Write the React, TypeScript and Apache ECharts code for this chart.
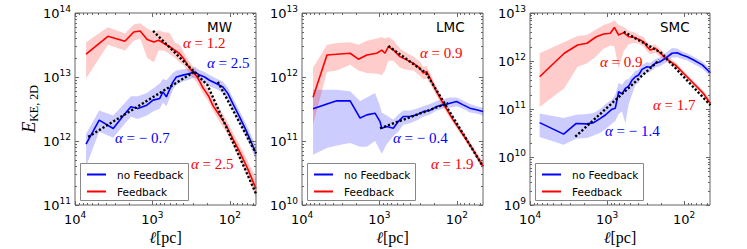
import React, { useEffect, useRef } from 'react';
import * as echarts from 'echarts';

// ---------------- data (ℓ in pc, E_KE,2D) ----------------
// MW
const mwRedEll = [7200, 3760, 2270, 1740, 1440, 1170, 960, 830, 716, 600, 516, 445, 390, 351, 312, 269, 243, 225, 206, 188, 166, 136, 112, 92, 75, 59, 46];
const mwRedE = [2.27e13, 4.33e13, 3.61e13, 5.06e13, 5.24e13, 3.85e13, 3.53e13, 3.75e13, 3.37e13, 2.97e13, 2.62e13, 2.31e13, 1.9e13, 1.53e13, 1.25e13, 1.03e13, 8.3e12, 6.9e12, 5.9e12, 5.0e12, 3.6e12, 2.5e12, 1.77e12, 1.1e12, 6.8e11, 3.7e11, 1.8e11];
const mwRedLo = [9.5e12, 3.2e13, 2.6e13, 3.7e13, 4.0e13, 2.0e13, 1.7e13, 2.6e13, 2.6e13, 2.3e13, 2.0e13, 1.7e13, 1.5e13, 1.23e13, 1.02e13, 8.3e12, 6.8e12, 5.6e12, 4.8e12, 4.1e12, 3.0e12, 2.0e12, 1.4e12, 8.7e11, 5.2e11, 2.8e11, 1.3e11];
const mwRedHi = [3.5e13, 6.0e13, 4.8e13, 6.6e13, 6.9e13, 5.7e13, 5.0e13, 5.4e13, 5.0e13, 4.9e13, 3.5e13, 3.2e13, 2.4e13, 1.9e13, 1.55e13, 1.26e13, 1.02e13, 8.5e12, 7.2e12, 6.2e12, 4.5e12, 3.2e12, 2.2e12, 1.38e12, 8.7e11, 4.9e11, 2.6e11];
const mwBlueEll = [7200, 4870, 3210, 2340, 1900, 1545, 1183, 982, 805, 731, 661, 543, 491, 404, 331, 286, 246, 212, 183, 150, 123, 106, 92, 75, 62, 51, 46];
const mwBlueE = [8.95e11, 2.12e12, 1.57e12, 2.54e12, 3.42e12, 3.23e12, 3.63e12, 4.35e12, 4.62e12, 5.86e12, 4.9e12, 8.4e12, 1.0e13, 1.07e13, 1.13e13, 1.2e13, 1.07e13, 1.0e13, 8.9e12, 7.9e12, 7.0e12, 5.5e12, 3.86e12, 2.39e12, 1.48e12, 8.6e11, 6.4e11];
const mwBlueLo = [4.0e11, 1.4e12, 1.12e12, 1.8e12, 2.4e12, 2.2e12, 2.5e12, 2.9e12, 3.2e12, 4.0e12, 3.5e12, 6.3e12, 7.6e12, 8.5e12, 9.1e12, 9.8e12, 8.7e12, 8.1e12, 7.2e12, 6.5e12, 5.6e12, 4.5e12, 3.1e12, 1.9e12, 1.17e12, 6.8e11, 5.0e11];
const mwBlueHi = [1.3e12, 3.0e12, 2.5e12, 3.8e12, 5.0e12, 5.0e12, 5.6e12, 6.6e12, 7.9e12, 9.3e12, 8.9e12, 1.17e13, 1.26e13, 1.32e13, 1.35e13, 1.45e13, 1.29e13, 1.2e13, 1.07e13, 9.5e12, 8.5e12, 6.8e12, 4.8e12, 2.95e12, 1.86e12, 1.1e12, 8.1e11];
const mwRedFit = [[982, 5.25e13], [195, 7.5e12], [46, 1.5e11]];
const mwBlueFitA = [[6750, 1.16e12], [290, 1.2e13]];
const mwBlueFitB = [[143, 8.4e12], [46, 6.4e11]];

// LMC
const lmcRedEll = [7200, 4760, 3550, 2390, 1870, 1456, 1084, 934, 847, 767, 662, 543, 446, 366, 300, 272, 246, 223, 183, 151, 112, 83, 62, 46];
const lmcRedE = [4.84e11, 2.21e12, 2.27e12, 2.35e12, 1.9e12, 2.21e12, 2.35e12, 2.63e12, 2.35e12, 2.98e12, 2.65e12, 2.08e12, 1.85e12, 1.64e12, 1.37e12, 1.15e12, 1.22e12, 9.6e11, 5.9e11, 3.9e11, 2.14e11, 1.25e11, 7.3e10, 4.0e10];
const lmcRedLo = [1.8e11, 1.2e12, 1.26e12, 1.55e12, 1.26e12, 1.15e12, 1.12e12, 1.07e12, 1.26e12, 1.8e12, 1.8e12, 1.4e12, 1.3e12, 1.26e12, 1.05e12, 9.1e11, 9.5e11, 7.9e11, 5.1e11, 3.4e11, 1.9e11, 1.12e11, 6.5e10, 3.5e10];
const lmcRedHi = [1.4e12, 3.2e12, 3.4e12, 3.5e12, 3.2e12, 3.7e12, 4.0e12, 4.2e12, 4.0e12, 4.2e12, 3.8e12, 2.8e12, 2.4e12, 2.1e12, 1.74e12, 1.45e12, 1.48e12, 1.15e12, 6.9e11, 4.5e11, 2.4e11, 1.41e11, 8.3e10, 4.6e10];
const lmcBlueEll = [7200, 4760, 3550, 2390, 1778, 1456, 1140, 982, 934, 805, 662, 571, 492, 404, 331, 272, 223, 183, 151, 123, 101, 83, 68, 56, 46];
const lmcBlueE = [3.18e11, 3.8e11, 4.24e11, 4.24e11, 2.28e11, 2.56e11, 2.72e11, 2.01e11, 1.58e11, 1.68e11, 1.58e11, 2.01e11, 2.41e11, 2.41e11, 2.56e11, 2.88e11, 3.03e11, 3.45e11, 3.67e11, 3.9e11, 4.13e11, 3.67e11, 3.26e11, 3.07e11, 2.88e11];
const lmcBlueLo = [6.1e10, 7.8e10, 8.5e10, 9.3e10, 8.1e10, 8.1e10, 1.0e11, 7.1e10, 6.3e10, 8.9e10, 1.2e11, 1.4e11, 1.8e11, 1.9e11, 2.1e11, 2.4e11, 2.6e11, 3.0e11, 3.2e11, 3.3e11, 3.5e11, 3.2e11, 2.8e11, 2.7e11, 2.5e11];
const lmcBlueHi = [6.3e11, 6.3e11, 6.3e11, 6.0e11, 4.2e11, 4.8e11, 5.6e11, 3.5e11, 2.8e11, 2.5e11, 2.14e11, 2.6e11, 3.0e11, 3.0e11, 3.2e11, 3.5e11, 3.8e11, 4.2e11, 4.5e11, 4.8e11, 4.8e11, 4.3e11, 3.8e11, 3.5e11, 3.3e11];
const lmcRedFit = [[767, 3.05e12], [250, 1.15e12], [46, 4.0e10]];
const lmcBlueFit = [[982, 1.58e11], [130, 3.9e11]];

// SMC
const smcRedEll = [7500, 3590, 2410, 1820, 1377, 1107, 906, 803, 706, 608, 524, 451, 389, 335, 303, 274, 236, 203, 166, 130, 101, 75, 56, 45.5];
const smcRedE = [4.7e11, 1.45e12, 2.15e12, 2.34e12, 3.2e12, 3.66e12, 3.78e12, 5.0e12, 3.48e12, 3.9e12, 3.2e12, 3.12e12, 2.83e12, 2.52e12, 1.99e12, 1.69e12, 1.84e12, 1.45e12, 1.08e12, 8.3e11, 5.5e11, 3.4e11, 2.1e11, 1.3e11];
const smcRedLo = [1.1e11, 2.7e11, 7.6e11, 8.9e11, 1.26e12, 1.8e12, 2.1e12, 2.0e12, 7.1e11, 1.6e12, 2.2e12, 2.4e12, 2.3e12, 2.0e12, 1.6e12, 1.38e12, 1.48e12, 1.2e12, 9.3e11, 7.2e11, 4.9e11, 3.0e11, 1.86e11, 1.15e11];
const smcRedHi = [1.45e12, 2.5e12, 3.3e12, 3.5e12, 4.6e12, 5.6e12, 6.3e12, 7.1e12, 5.6e12, 5.2e12, 4.2e12, 4.0e12, 3.5e12, 3.2e12, 2.5e12, 2.1e12, 2.2e12, 1.78e12, 1.26e12, 9.5e11, 6.3e11, 3.9e11, 2.4e11, 1.5e11];
const smcBlueEll = [7500, 3660, 2510, 1820, 1490, 1220, 1050, 861, 780, 706, 638, 578, 524, 473, 428, 389, 351, 303, 274, 236, 203, 175, 143, 123, 106, 91, 75, 58, 45.5];
const smcBlueE = [5.2e10, 3.0e10, 5.0e10, 4.9e10, 5.2e10, 6.4e10, 7.5e10, 9.9e10, 1.04e11, 2.29e11, 2.06e11, 2.7e11, 3.0e11, 4.0e11, 4.7e11, 5.1e11, 6.7e11, 7.6e11, 7.4e11, 8.95e11, 9.7e11, 1.14e12, 1.45e12, 1.49e12, 1.33e12, 1.23e12, 1.05e12, 8.3e11, 5.7e11];
const smcBlueLo = [2.6e10, 1.8e10, 2.4e10, 2.5e10, 2.8e10, 3.2e10, 3.8e10, 5.0e10, 5.6e10, 7.9e10, 8.9e10, 5.0e10, 1.26e11, 2.0e11, 3.2e11, 3.5e11, 5.0e11, 5.6e11, 6.0e11, 7.2e11, 7.9e11, 9.1e11, 1.17e12, 1.2e12, 1.1e12, 1.02e12, 8.7e11, 6.9e11, 4.8e11];
const smcBlueHi = [8.1e10, 6.5e10, 7.6e10, 7.9e10, 8.3e10, 1.0e11, 1.26e11, 1.58e11, 2.0e11, 3.5e11, 3.2e11, 4.0e11, 4.2e11, 5.2e11, 6.3e11, 6.6e11, 8.3e11, 9.5e11, 9.1e11, 1.1e12, 1.2e12, 1.45e12, 1.86e12, 1.82e12, 1.58e12, 1.45e12, 1.23e12, 9.8e11, 6.8e11];
const smcRedFit = [[608, 4.07e12], [200, 1.5e12], [45.5, 1.2e11]];
const smcBlueFit = [[2580, 2.65e10], [210, 1.05e12]];

// axes ranges
const xRange = [46, 1e4];
const yRanges = [[1e11, 1e14], [1e10, 1e13], [1e9, 1e13]];
const panelNames = ['MW', 'LMC', 'SMC'];
const legendNames = ['no Feedback', 'Feedback'];

// fit annotations: [panel, text, color, left x, center y]
const alphaLabels: [number, string, string, number, number][] = [
  [0, '1.2', 'red', 183, 42.5],
  [0, '2.5', 'blue', 207, 62.5],
  [0, '− 0.7', 'blue', 115, 138],
  [0, '2.5', 'red', 191, 164],
  [1, '0.9', 'red', 420, 53.3],
  [1, '− 0.4', 'blue', 393, 137.5],
  [1, '1.9', 'red', 431, 164],
  [2, '0.9', 'red', 600, 61.7],
  [2, '1.7', 'red', 653, 105],
  [2, '− 1.4', 'blue', 605, 130.7],
];

// ---------------- layout / styles ----------------
const layout = [
  { left: 75, width: 181 },
  { left: 302, width: 181 },
  { left: 530, width: 180 },
];
const TOP = 13;
const HEIGHT = 192;
const RED = '#ff0000';
const BLUE = '#0000ff';
const FRAME = '#666666';
const SERIF = "'Liberation Serif', 'DejaVu Serif', serif";
const SANS = "'DejaVu Sans', sans-serif";

function powFmt(v: number) {
  const l = Math.log10(v);
  const e = Math.round(l);
  if (Math.abs(l - e) > 1e-6) return '';
  return '{b|10}{s|' + e + '}';
}
const tickRich = {
  b: { fontFamily: SANS, fontSize: 13, color: '#000', lineHeight: 18 },
  s: { fontFamily: SANS, fontSize: 9, color: '#000', lineHeight: 10, verticalAlign: 'top' },
};

function logTicks(min: number, max: number) {
  const out: { v: number; major: boolean }[] = [];
  for (let e = Math.floor(Math.log10(min)); e <= Math.ceil(Math.log10(max)); e++) {
    for (let k = 1; k <= 9; k++) {
      const v = k * Math.pow(10, e);
      if (v >= min * (1 - 1e-9) && v <= max * (1 + 1e-9)) out.push({ v, major: k === 1 });
    }
  }
  return out;
}

function bandSeries(g: number, ell: number[], lo: number[], hi: number[], color: string) {
  return {
    type: 'custom',
    xAxisIndex: g,
    yAxisIndex: g,
    silent: true,
    clip: true,
    z: 1,
    data: ell.map((l, i) => [l, lo[i], hi[i]]),
    encode: { x: 0, y: [1, 2] },
    renderItem: (params: any, api: any) => {
      if (params.dataIndex !== 0) return null;
      const top = ell.map((l, i) => api.coord([l, hi[i]]));
      const bot = ell.map((l, i) => api.coord([l, lo[i]])).reverse();
      return { type: 'polygon', shape: { points: top.concat(bot) }, style: { fill: color } };
    },
  };
}

function lineSeries(g: number, name: string, ell: number[], vals: number[], color: string) {
  return {
    type: 'line',
    name,
    xAxisIndex: g,
    yAxisIndex: g,
    data: ell.map((l, i) => [l, vals[i]]),
    symbol: 'none',
    showSymbol: false,
    lineStyle: { color, width: 1.6 },
    itemStyle: { color },
    z: 3,
    silent: true,
  };
}

function fitSeries(g: number, pts: number[][]) {
  return {
    type: 'line',
    xAxisIndex: g,
    yAxisIndex: g,
    data: pts,
    symbol: 'none',
    showSymbol: false,
    lineStyle: { color: '#000', width: 2.4, type: [2.2, 2] },
    z: 5,
    silent: true,
  };
}

function tickSeries(g: number) {
  const [yMin, yMax] = yRanges[g];
  const xs = logTicks(xRange[0], xRange[1]);
  const ys = logTicks(yMin, yMax);
  const data = [
    ...xs.map((t) => [t.v, yMin, 0, t.major ? 1 : 0]),
    ...ys.map((t) => [xRange[1], t.v, 1, t.major ? 1 : 0]),
  ];
  return {
    type: 'custom',
    xAxisIndex: g,
    yAxisIndex: g,
    silent: true,
    clip: false,
    z: 6,
    data,
    renderItem: (params: any, api: any) => {
      const cs = params.coordSys;
      const isY = api.value(2) === 1;
      const len = api.value(3) ? 4 : 2;
      const p = api.coord([api.value(0), api.value(1)]);
      const st = { stroke: FRAME, lineWidth: 1 };
      if (!isY) {
        const x = Math.round(p[0]) + 0.5;
        const b = cs.y + cs.height;
        return {
          type: 'group',
          children: [
            { type: 'line', shape: { x1: x, y1: b, x2: x, y2: b - len }, style: st },
            { type: 'line', shape: { x1: x, y1: cs.y, x2: x, y2: cs.y + len }, style: st },
          ],
        };
      }
      const y = Math.round(p[1]) + 0.5;
      const r = cs.x + cs.width;
      return {
        type: 'group',
        children: [
          { type: 'line', shape: { x1: cs.x, y1: y, x2: cs.x + len, y2: y }, style: st },
          { type: 'line', shape: { x1: r, y1: y, x2: r - len, y2: y }, style: st },
        ],
      };
    },
  };
}

export default function App() {
  const ref = useRef<HTMLDivElement>(null);
  useEffect(() => {
    if (!ref.current) return;
    const chart = echarts.init(ref.current, undefined, { renderer: 'svg' });

    const grids = layout.map((l) => ({
      left: l.left,
      top: TOP,
      width: l.width,
      height: HEIGHT,
      show: true,
      borderColor: FRAME,
      borderWidth: 1,
      backgroundColor: 'transparent',
      containLabel: false,
      outerBoundsMode: 'none',
    }));

    const xAxis = layout.map((_, g) => ({
      type: 'log',
      logBase: 10,
      gridIndex: g,
      min: xRange[0],
      max: xRange[1],
      inverse: true,
      axisLine: { show: false },
      axisTick: { show: false },
      minorTick: { show: false },
      splitLine: { show: false },
      axisLabel: { formatter: powFmt, rich: tickRich, margin: 5 },
    }));
    const yAxis = layout.map((_, g) => ({
      type: 'log',
      logBase: 10,
      gridIndex: g,
      min: yRanges[g][0],
      max: yRanges[g][1],
      axisLine: { show: false },
      axisTick: { show: false },
      minorTick: { show: false },
      splitLine: { show: false },
      axisLabel: { formatter: powFmt, rich: tickRich, margin: 4 },
    }));

    const series: any[] = [
      bandSeries(0, mwBlueEll, mwBlueLo, mwBlueHi, 'rgba(0,0,255,0.2)'),
      bandSeries(0, mwRedEll, mwRedLo, mwRedHi, 'rgba(255,0,0,0.2)'),
      lineSeries(0, legendNames[0], mwBlueEll, mwBlueE, BLUE),
      lineSeries(0, legendNames[1], mwRedEll, mwRedE, RED),
      fitSeries(0, mwRedFit),
      fitSeries(0, mwBlueFitA),
      fitSeries(0, mwBlueFitB),
      bandSeries(1, lmcBlueEll, lmcBlueLo, lmcBlueHi, 'rgba(0,0,255,0.2)'),
      bandSeries(1, lmcRedEll, lmcRedLo, lmcRedHi, 'rgba(255,0,0,0.2)'),
      lineSeries(1, legendNames[0], lmcBlueEll, lmcBlueE, BLUE),
      lineSeries(1, legendNames[1], lmcRedEll, lmcRedE, RED),
      fitSeries(1, lmcRedFit),
      fitSeries(1, lmcBlueFit),
      bandSeries(2, smcBlueEll, smcBlueLo, smcBlueHi, 'rgba(0,0,255,0.2)'),
      bandSeries(2, smcRedEll, smcRedLo, smcRedHi, 'rgba(255,0,0,0.2)'),
      lineSeries(2, legendNames[0], smcBlueEll, smcBlueE, BLUE),
      lineSeries(2, legendNames[1], smcRedEll, smcRedE, RED),
      fitSeries(2, smcRedFit),
      fitSeries(2, smcBlueFit),
      tickSeries(0),
      tickSeries(1),
      tickSeries(2),
    ];

    const graphics: any[] = [];
    // panel names
    const nameX = [207, 436, 660];
    panelNames.forEach((n, g) => {
      graphics.push({
        type: 'text', x: nameX[g], y: 26.5, z: 100,
        style: { text: n, fontFamily: SANS, fontSize: 13.5, fill: '#000', align: 'left', verticalAlign: 'middle' },
      });
    });
    // alpha labels
    alphaLabels.forEach(([, val, c, x, y]) => {
      const col = c === 'red' ? RED : BLUE;
      graphics.push({
        type: 'text', x, y, z: 100,
        style: {
          text: '{a|α}{t| = ' + val + '}',
          rich: {
            a: { fontFamily: SERIF, fontStyle: 'italic', fontSize: 15, fill: col },
            t: { fontFamily: SERIF, fontSize: 15, fill: col },
          },
          fill: col, align: 'left', verticalAlign: 'middle',
        },
      });
    });
    // legends
    layout.forEach((l) => {
      const bx = l.left + 5;
      graphics.push({
        type: 'rect', z: 100,
        shape: { x: bx + 0.5, y: 163.5, width: 108, height: 37 },
        style: { fill: '#fff', stroke: '#888', lineWidth: 1 },
      });
      [BLUE, RED].forEach((c, i) => {
        const yy = 174.5 + i * 17;
        graphics.push({
          type: 'line', z: 101,
          shape: { x1: bx + 7, y1: yy, x2: bx + 26, y2: yy },
          style: { stroke: c, lineWidth: 2 },
        });
        graphics.push({
          type: 'text', x: bx + 37, y: yy, z: 101,
          style: { text: legendNames[i], fontFamily: SANS, fontSize: 10.5, fill: '#000', align: 'left', verticalAlign: 'middle' },
        });
      });
    });
    // x titles
    layout.forEach((l) => {
      graphics.push({
        type: 'text', x: l.left + l.width / 2, y: 237, z: 100,
        style: {
          text: '{l|ℓ}{t|[pc]}',
          rich: {
            l: { fontFamily: SERIF, fontStyle: 'italic', fontSize: 16, fill: '#000' },
            t: { fontFamily: SERIF, fontSize: 16, fill: '#000' },
          },
          align: 'center', verticalAlign: 'middle',
        },
      });
    });
    // y title
    graphics.push({
      type: 'text', x: 29, y: 109, rotation: Math.PI / 2, z: 100,
      style: {
        text: '{e|E}{s|KE, 2D}',
        rich: {
          e: { fontFamily: SERIF, fontStyle: 'italic', fontSize: 18, lineHeight: 22, fill: '#000' },
          s: { fontFamily: SERIF, fontSize: 12, lineHeight: 12, verticalAlign: 'bottom', fill: '#000' },
        },
        align: 'center', verticalAlign: 'middle',
      },
    });

    chart.setOption({
      animation: false,
      backgroundColor: '#fff',
      grid: grids,
      xAxis,
      yAxis,
      series,
      graphic: graphics,
    } as any);

    return () => chart.dispose();
  }, []);

  return <div ref={ref} style={{ position: 'fixed', left: 0, top: 0, width: 747, height: 249 }} />;
}
